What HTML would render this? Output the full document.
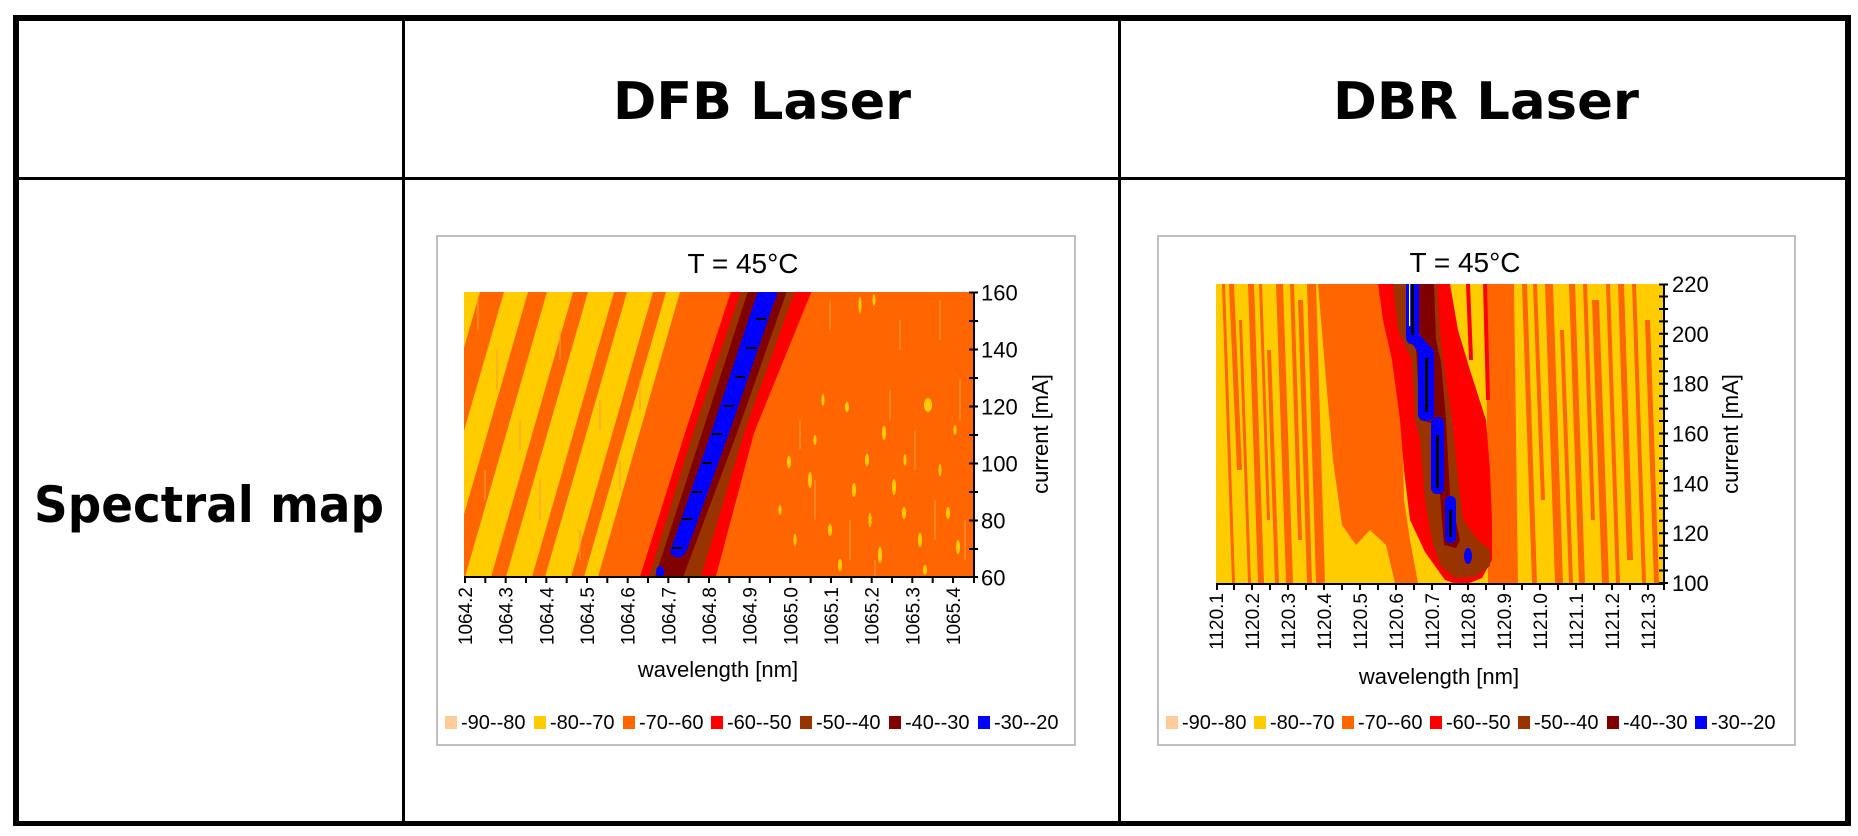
<!DOCTYPE html>
<html><head><meta charset="utf-8"><style>
html,body{margin:0;padding:0;background:#fff;}
svg{display:block;}
.c{font-family:"Liberation Sans",Arial,sans-serif;fill:#000;}
.h{font-family:"DejaVu Sans","Liberation Sans",sans-serif;font-weight:bold;fill:#000;}
</style></head><body>
<svg width="1858" height="836" viewBox="0 0 1858 836" xmlns="http://www.w3.org/2000/svg">
<rect x="0" y="0" width="1858" height="836" fill="#fff"/>
<defs>
<clipPath id="cA"><rect x="464" y="292" width="509" height="285"/></clipPath>
<clipPath id="cB"><rect x="1216" y="284" width="447" height="299"/></clipPath>
</defs>

<!-- table -->
<rect x="13" y="15" width="1838" height="6" fill="#000"/>
<rect x="13" y="821" width="1838" height="5" fill="#000"/>
<rect x="13" y="15" width="6" height="811" fill="#000"/>
<rect x="1845" y="15" width="6" height="811" fill="#000"/>
<rect x="19" y="177" width="1826" height="3" fill="#000"/>
<rect x="402" y="21" width="3" height="800" fill="#000"/>
<rect x="1118" y="21" width="3" height="800" fill="#000"/>

<text class="h" x="613" y="119" font-size="52" textLength="298" lengthAdjust="spacingAndGlyphs">DFB Laser</text>
<text class="h" x="1333" y="119" font-size="52" textLength="306" lengthAdjust="spacingAndGlyphs">DBR Laser</text>
<text class="h" x="34" y="522" font-size="50" textLength="350" lengthAdjust="spacingAndGlyphs">Spectral map</text>

<!-- ============ DFB chart ============ -->
<rect x="437" y="236" width="638" height="509" fill="#fff" stroke="#BFBFBF" stroke-width="2"/>
<text class="c" x="743" y="273" font-size="28" text-anchor="middle">T = 45°C</text>

<g clip-path="url(#cA)">
<rect x="464" y="292" width="509" height="285" fill="#FF6600"/>
<!-- yellow stripes -->
<g fill="#FFCC00">
<polygon points="382,577 398,577 480,292 464,292"/>
<polygon points="422,577 446,577 528,292 504,292"/>
<polygon points="465,577 491,577 573,292 547,292"/>
<polygon points="506,577 532,577 614,292 588,292"/>
<polygon points="545,577 571,577 653,292 627,292"/>
<polygon points="584,577 598,577 680,292 666,292"/>
</g>
<!-- texture lines -->
<g stroke="#FF9A3C" stroke-width="1.5" opacity="0.7">
<line x1="478" y1="300" x2="478" y2="330"/><line x1="497" y1="350" x2="497" y2="390"/>
<line x1="520" y1="420" x2="520" y2="450"/><line x1="540" y1="480" x2="540" y2="520"/>
<line x1="560" y1="330" x2="560" y2="360"/><line x1="600" y1="400" x2="600" y2="430"/>
<line x1="485" y1="470" x2="485" y2="500"/><line x1="580" y1="530" x2="580" y2="560"/>
<line x1="620" y1="460" x2="620" y2="490"/><line x1="640" y1="380" x2="640" y2="410"/>
<line x1="830" y1="300" x2="830" y2="330"/><line x1="900" y1="320" x2="900" y2="350"/>
<line x1="940" y1="300" x2="940" y2="340"/><line x1="960" y1="380" x2="960" y2="420"/>
<line x1="815" y1="480" x2="815" y2="520"/><line x1="850" y1="520" x2="850" y2="560"/>
<line x1="890" y1="390" x2="890" y2="420"/><line x1="915" y1="430" x2="915" y2="470"/>
<line x1="935" y1="500" x2="935" y2="540"/><line x1="965" y1="520" x2="965" y2="560"/>
<line x1="800" y1="420" x2="800" y2="450"/><line x1="875" y1="560" x2="875" y2="577"/>
</g>
<!-- specks -->
<g fill="#FFCC00">
<ellipse cx="928" cy="405" rx="4" ry="7"/><ellipse cx="789" cy="462" rx="2" ry="6"/>
<ellipse cx="810" cy="480" rx="2" ry="8"/><ellipse cx="854" cy="490" rx="2" ry="7"/>
<ellipse cx="867" cy="460" rx="2" ry="6"/><ellipse cx="847" cy="407" rx="2" ry="5"/>
<ellipse cx="823" cy="400" rx="1.5" ry="6"/><ellipse cx="884" cy="433" rx="2" ry="7"/>
<ellipse cx="894" cy="487" rx="2" ry="8"/><ellipse cx="904" cy="513" rx="2" ry="6"/>
<ellipse cx="948" cy="513" rx="2" ry="6"/><ellipse cx="958" cy="547" rx="2" ry="7"/>
<ellipse cx="860" cy="305" rx="1.5" ry="8"/><ellipse cx="874" cy="300" rx="1.5" ry="6"/>
<ellipse cx="830" cy="530" rx="2" ry="6"/><ellipse cx="880" cy="555" rx="2" ry="8"/>
<ellipse cx="920" cy="540" rx="2" ry="7"/><ellipse cx="795" cy="540" rx="1.5" ry="6"/>
<ellipse cx="840" cy="565" rx="2" ry="6"/><ellipse cx="905" cy="460" rx="1.5" ry="6"/>
<ellipse cx="940" cy="470" rx="1.5" ry="6"/><ellipse cx="815" cy="440" rx="1.5" ry="5"/>
<ellipse cx="955" cy="430" rx="1.5" ry="5"/><ellipse cx="870" cy="520" rx="1.5" ry="7"/>
<ellipse cx="925" cy="570" rx="2" ry="5"/><ellipse cx="780" cy="510" rx="1.5" ry="5"/>
</g>
<!-- band -->
<polygon fill="#FF0000" points="732,288 813,288 754,433 715,580 639,580 685,433"/>
<polygon fill="#993300" points="742,288 796,288 744,433 700,580 648,580 693,433"/>
<polygon fill="#800000" points="749,288 788,288 737,433 682,580 654,580 702,433"/>
<path fill="#0000FF" d="M759,288 L779,288 L729,433 L687,550 Q679,564 670,552 L711,433 Z"/>
<ellipse cx="660" cy="572" rx="4" ry="6" fill="#0000FF"/>
<g fill="#000">
<rect x="756" y="318" width="10" height="2"/><rect x="746" y="347" width="10" height="2"/>
<rect x="735" y="376" width="10" height="2"/><rect x="724" y="405" width="10" height="2"/>
<rect x="712" y="433" width="10" height="2"/><rect x="702" y="462" width="10" height="2"/>
<rect x="692" y="491" width="10" height="2"/><rect x="682" y="518" width="10" height="2"/>
<rect x="672" y="547" width="10" height="2"/>
</g>
</g>
<!-- axes -->
<rect x="464" y="576" width="511" height="2" fill="#000"/>
<rect x="973" y="292" width="2" height="286" fill="#000"/>
<path stroke="#000" stroke-width="2" fill="none" d="M465 577v6M485.3 577v6M505.7 577v6M526 577v6M546.3 577v6M566.7 577v6M587 577v6M607.3 577v6M627.7 577v6M648 577v6M668.3 577v6M688.7 577v6M709 577v6M729.3 577v6M749.7 577v6M770 577v6M790.3 577v6M810.7 577v6M831 577v6M851.3 577v6M871.7 577v6M892 577v6M912.3 577v6M932.7 577v6M953 577v6M974 577v6
M969 292.5h9M969 321h9M969 349.5h9M969 378h9M969 406.5h9M969 435h9M969 463.5h9M969 492h9M969 520.5h9M969 549h9M969 577h9"/>
<g class="c" font-size="19" text-anchor="end">
<text transform="translate(472,587) rotate(-90)">1064.2</text>
<text transform="translate(512.7,587) rotate(-90)">1064.3</text>
<text transform="translate(553.3,587) rotate(-90)">1064.4</text>
<text transform="translate(594,587) rotate(-90)">1064.5</text>
<text transform="translate(634.7,587) rotate(-90)">1064.6</text>
<text transform="translate(675.3,587) rotate(-90)">1064.7</text>
<text transform="translate(716,587) rotate(-90)">1064.8</text>
<text transform="translate(756.7,587) rotate(-90)">1064.9</text>
<text transform="translate(797.3,587) rotate(-90)">1065.0</text>
<text transform="translate(838,587) rotate(-90)">1065.1</text>
<text transform="translate(878.7,587) rotate(-90)">1065.2</text>
<text transform="translate(919.3,587) rotate(-90)">1065.3</text>
<text transform="translate(960,587) rotate(-90)">1065.4</text>
</g>
<g class="c" font-size="22">
<text x="981" y="300.5">160</text><text x="981" y="357.5">140</text>
<text x="981" y="414.5">120</text><text x="981" y="471.5">100</text>
<text x="981" y="528.5">80</text><text x="981" y="585.5">60</text>
</g>
<text class="c" font-size="22" text-anchor="middle" transform="translate(1048,434) rotate(-90)">current [mA]</text>
<text class="c" font-size="22" x="718" y="677" text-anchor="middle">wavelength [nm]</text>
<!-- legend -->
<g>
<rect x="445" y="716" width="12" height="13" fill="#FFCC99"/>
<rect x="534" y="716" width="12" height="13" fill="#FFCC00"/>
<rect x="623" y="716" width="12" height="13" fill="#FF6600"/>
<rect x="711" y="716" width="12" height="13" fill="#FF0000"/>
<rect x="800" y="716" width="12" height="13" fill="#993300"/>
<rect x="889" y="716" width="12" height="13" fill="#800000"/>
<rect x="978" y="716" width="12" height="13" fill="#0000FF"/>
</g>
<g class="c" font-size="20">
<text x="461" y="729">-90--80</text><text x="550" y="729">-80--70</text>
<text x="639" y="729">-70--60</text><text x="727" y="729">-60--50</text>
<text x="816" y="729">-50--40</text><text x="905" y="729">-40--30</text>
<text x="994" y="729">-30--20</text>
</g>

<!-- ============ DBR chart ============ -->
<rect x="1158" y="236" width="637" height="509" fill="#fff" stroke="#BFBFBF" stroke-width="2"/>
<text class="c" x="1465" y="272" font-size="28" text-anchor="middle">T = 45°C</text>

<g clip-path="url(#cB)">
<rect x="1216" y="284" width="447" height="299" fill="#FFCC00"/>
<g fill="#FF6600">
<!-- left zone streaks -->
<polygon points="1222,284 1225,284 1235,583 1232,583"/>
<polygon points="1229,284 1234,284 1242,470 1237,470"/>
<polygon points="1239,320 1242,320 1251,583 1248,583"/>
<polygon points="1248,284 1254,284 1264,583 1258,583"/>
<polygon points="1259,284 1262,284 1270,520 1267,520"/>
<polygon points="1267,350 1271,350 1279,583 1275,583"/>
<polygon points="1276,284 1283,284 1293,583 1286,583"/>
<polygon points="1290,284 1294,284 1302,540 1298,540"/>
<polygon points="1298,300 1303,300 1312,583 1307,583"/>
<polygon points="1307,284 1316,284 1325,583 1316,583"/>
<!-- orange block -->
<polygon points="1318,284 1398,284 1400,330 1402,420 1404,500 1410,540 1418,583 1395,583 1386,545 1370,530 1356,545 1342,525 1333,460 1326,380"/>
<!-- right side orange column -->
<polygon points="1486,284 1514,284 1518,583 1488,583"/>
<!-- right zone streaks -->
<polygon points="1522,284 1527,284 1537,583 1532,583"/>
<polygon points="1533,284 1537,284 1545,500 1541,500"/>
<polygon points="1545,284 1553,284 1563,583 1555,583"/>
<polygon points="1560,330 1564,330 1573,583 1569,583"/>
<polygon points="1569,284 1575,284 1585,583 1579,583"/>
<polygon points="1583,284 1587,284 1595,520 1591,520"/>
<polygon points="1592,300 1599,300 1609,583 1602,583"/>
<polygon points="1606,284 1610,284 1620,583 1616,583"/>
<polygon points="1618,284 1624,284 1633,560 1627,560"/>
<polygon points="1632,284 1636,284 1646,583 1642,583"/>
<polygon points="1645,320 1650,320 1659,583 1654,583"/>
</g>
<!-- band red -->
<polygon fill="#FF0000" points="1378,284 1450,284 1458,330 1470,370 1486,420 1490,470 1492,520 1492,560 1482,578 1462,586 1445,580 1425,552 1410,520 1404,470 1400,420 1392,360 1383,320"/>
<g fill="#FF0000">
<polygon points="1466,284 1470,284 1473,360 1469,360"/>
<polygon points="1483,284 1487,284 1490,400 1486,400"/>
</g>
<!-- brown -->
<polygon fill="#993300" points="1393,284 1398,330 1405,345 1412,360 1415,420 1420,440 1425,500 1432,540 1440,565 1455,578 1475,577 1490,566 1490,550 1478,540 1463,520 1460,495 1456,460 1452,420 1446,380 1441,345 1438,300 1437,284"/>
<!-- dark red -->
<polygon fill="#800000" points="1416,284 1434,284 1436,340 1441,362 1446,420 1450,495 1460,540 1456,548 1444,545 1440,495 1431,423 1420,420 1416,346 1408,343"/>
<!-- blue -->
<g fill="#0000FF">
<rect x="1406" y="278" width="13" height="66" rx="6"/>
<polygon points="1407,334 1419,334 1433,350 1421,358"/>
<rect x="1418" y="346" width="16" height="75" rx="7"/>
<rect x="1431" y="417" width="13" height="77" rx="6"/>
<rect x="1445" y="496" width="11" height="47" rx="5"/>
<ellipse cx="1468" cy="556" rx="4" ry="8"/>
</g>
<g fill="#000">
<rect x="1411" y="284" width="3" height="51"/>
<rect x="1425" y="358" width="3" height="54"/>
<rect x="1436" y="435" width="3" height="53"/>
<rect x="1449" y="510" width="3" height="27"/>
</g>
<rect x="1409" y="284" width="1.2" height="42" fill="#fff"/>
</g>
<!-- axes -->
<rect x="1216" y="583" width="449" height="2" fill="#000"/>
<rect x="1663" y="284" width="2" height="301" fill="#000"/>
<path stroke="#000" stroke-width="2" fill="none" d="M1217 584v6M1234 584v6M1252 584v6M1270 584v6M1288 584v6M1306 584v6M1324 584v6M1342 584v6M1360 584v6M1378 584v6M1396 584v6M1414 584v6M1432 584v6M1450 584v6M1468 584v6M1486 584v6M1504 584v6M1522 584v6M1540 584v6M1558 584v6M1576 584v6M1594 584v6M1612 584v6M1630 584v6M1648 584v6M1664 584v6
M1659 284.5h9M1659 296.5h9M1659 309h9M1659 321.4h9M1659 333.8h9M1659 346.3h9M1659 358.7h9M1659 371.2h9M1659 383.7h9M1659 396.1h9M1659 408.6h9M1659 421h9M1659 433.5h9M1659 446h9M1659 458.4h9M1659 470.9h9M1659 483.3h9M1659 495.8h9M1659 508.2h9M1659 520.7h9M1659 533.2h9M1659 545.6h9M1659 558.1h9M1659 570.5h9M1659 583h9"/>
<g class="c" font-size="19" text-anchor="end">
<text transform="translate(1223,593) rotate(-90)">1120.1</text>
<text transform="translate(1259,593) rotate(-90)">1120.2</text>
<text transform="translate(1295,593) rotate(-90)">1120.3</text>
<text transform="translate(1331,593) rotate(-90)">1120.4</text>
<text transform="translate(1367,593) rotate(-90)">1120.5</text>
<text transform="translate(1403,593) rotate(-90)">1120.6</text>
<text transform="translate(1439,593) rotate(-90)">1120.7</text>
<text transform="translate(1475,593) rotate(-90)">1120.8</text>
<text transform="translate(1511,593) rotate(-90)">1120.9</text>
<text transform="translate(1547,593) rotate(-90)">1121.0</text>
<text transform="translate(1583,593) rotate(-90)">1121.1</text>
<text transform="translate(1619,593) rotate(-90)">1121.2</text>
<text transform="translate(1655,593) rotate(-90)">1121.3</text>
</g>
<g class="c" font-size="22">
<text x="1672" y="292">220</text><text x="1672" y="341.8">200</text>
<text x="1672" y="391.7">180</text><text x="1672" y="441.5">160</text>
<text x="1672" y="491.3">140</text><text x="1672" y="541.2">120</text>
<text x="1672" y="591">100</text>
</g>
<text class="c" font-size="22" text-anchor="middle" transform="translate(1738,434) rotate(-90)">current [mA]</text>
<text class="c" font-size="22" x="1439" y="684" text-anchor="middle">wavelength [nm]</text>
<g>
<rect x="1166" y="716" width="12" height="13" fill="#FFCC99"/>
<rect x="1254" y="716" width="12" height="13" fill="#FFCC00"/>
<rect x="1342" y="716" width="12" height="13" fill="#FF6600"/>
<rect x="1430" y="716" width="12" height="13" fill="#FF0000"/>
<rect x="1518" y="716" width="12" height="13" fill="#993300"/>
<rect x="1607" y="716" width="12" height="13" fill="#800000"/>
<rect x="1695" y="716" width="12" height="13" fill="#0000FF"/>
</g>
<g class="c" font-size="20">
<text x="1182" y="729">-90--80</text><text x="1270" y="729">-80--70</text>
<text x="1358" y="729">-70--60</text><text x="1446" y="729">-60--50</text>
<text x="1534" y="729">-50--40</text><text x="1623" y="729">-40--30</text>
<text x="1711" y="729">-30--20</text>
</g>
</svg>
</body></html>
